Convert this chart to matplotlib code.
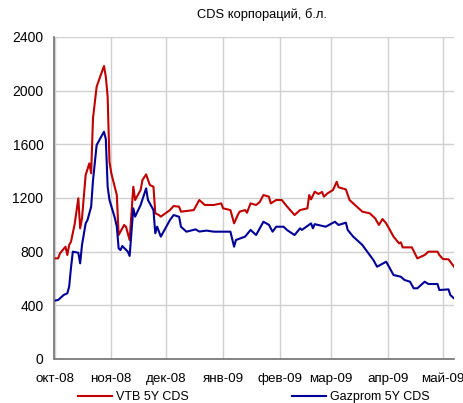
import numpy as np
import pandas as pd
import matplotlib
matplotlib.use("Agg")
import matplotlib.pyplot as plt
import matplotlib.dates as mdates

plt.rcParams['font.family'] = ['Liberation Sans', 'DejaVu Sans']

vtb_dates = ["2008-10-01", "2008-10-03", "2008-10-04", "2008-10-07", "2008-10-08", "2008-10-09",
             "2008-10-10", "2008-10-12", "2008-10-14", "2008-10-15", "2008-10-16", "2008-10-18",
             "2008-10-20", "2008-10-21", "2008-10-22", "2008-10-24", "2008-10-28", "2008-10-29",
             "2008-10-30", "2008-10-31", "2008-11-01", "2008-11-04", "2008-11-05", "2008-11-08",
             "2008-11-09", "2008-11-11", "2008-11-13", "2008-11-14", "2008-11-17", "2008-11-18",
             "2008-11-20", "2008-11-22", "2008-11-24", "2008-11-25", "2008-11-27", "2008-11-28",
             "2008-12-03", "2008-12-05", "2008-12-08", "2008-12-09", "2008-12-16", "2008-12-19",
             "2008-12-22", "2008-12-27", "2008-12-31", "2009-01-01", "2009-01-05", "2009-01-07",
             "2009-01-09", "2009-01-10", "2009-01-13", "2009-01-14", "2009-01-16", "2009-01-19",
             "2009-01-21", "2009-01-23", "2009-01-26", "2009-01-27", "2009-01-30", "2009-02-02",
             "2009-02-05", "2009-02-09", "2009-02-12", "2009-02-16", "2009-02-17", "2009-02-18",
             "2009-02-20", "2009-02-22", "2009-02-24", "2009-02-25", "2009-02-27", "2009-03-02",
             "2009-03-04", "2009-03-05", "2009-03-09", "2009-03-11", "2009-03-13", "2009-03-18",
             "2009-03-22", "2009-03-25", "2009-03-27", "2009-03-29", "2009-03-31", "2009-04-02",
             "2009-04-04", "2009-04-07", "2009-04-08", "2009-04-09", "2009-04-14", "2009-04-17",
             "2009-04-21", "2009-04-23", "2009-04-28", "2009-04-29", "2009-05-01", "2009-05-04",
             "2009-05-07"]
vtb = [750, 750, 788, 837, 775, 850,
       874, 1005, 1198, 974, 1048, 1371,
       1458, 1384, 1794, 2030, 2184, 2104,
       1955, 1470, 1384, 1222, 924, 999,
       986, 887, 1284, 1185, 1260, 1334,
       1376, 1297, 1284, 1086, 1073, 1061,
       1110, 1140, 1135, 1098, 1110, 1185,
       1148, 1148, 1160, 1123, 1110, 1011,
       1073, 1098, 1110, 1090, 1160, 1148,
       1170, 1222, 1210, 1160, 1185, 1185,
       1135, 1073, 1110, 1123, 1222, 1190,
       1247, 1230, 1245, 1210, 1235, 1260,
       1321, 1280, 1264, 1185, 1160, 1098,
       1086, 1048, 999, 1043, 1011, 962,
       912, 862, 870, 832, 832, 750,
       775, 800, 800, 775, 745, 743,
       688]

gaz_dates = ["2008-10-01", "2008-10-03", "2008-10-06", "2008-10-08", "2008-10-09", "2008-10-10",
             "2008-10-11", "2008-10-14", "2008-10-15", "2008-10-16", "2008-10-18", "2008-10-19",
             "2008-10-21", "2008-10-22", "2008-10-24", "2008-10-28", "2008-10-29", "2008-10-30",
             "2008-10-31", "2008-11-03", "2008-11-04", "2008-11-05", "2008-11-06", "2008-11-07",
             "2008-11-10", "2008-11-11", "2008-11-13", "2008-11-14", "2008-11-17", "2008-11-20",
             "2008-11-21", "2008-11-24", "2008-11-25", "2008-11-26", "2008-11-28", "2008-12-01",
             "2008-12-03", "2008-12-05", "2008-12-08", "2008-12-09", "2008-12-12", "2008-12-17",
             "2008-12-19", "2008-12-23", "2008-12-27", "2009-01-05", "2009-01-07", "2009-01-08",
             "2009-01-13", "2009-01-16", "2009-01-19", "2009-01-23", "2009-01-26", "2009-01-28",
             "2009-01-30", "2009-02-03", "2009-02-05", "2009-02-09", "2009-02-12", "2009-02-13",
             "2009-02-18", "2009-02-19", "2009-02-20", "2009-02-26", "2009-03-03", "2009-03-05",
             "2009-03-09", "2009-03-10", "2009-03-13", "2009-03-18", "2009-03-20", "2009-03-24",
             "2009-03-26", "2009-03-31", "2009-04-02", "2009-04-04", "2009-04-08", "2009-04-10",
             "2009-04-13", "2009-04-15", "2009-04-17", "2009-04-21", "2009-04-23", "2009-04-28",
             "2009-04-29", "2009-05-04", "2009-05-05", "2009-05-07"]
gazprom = [435, 440, 477, 490, 539, 680,
           800, 792, 713, 850, 1011, 1036,
           1135, 1330, 1595, 1694, 1640, 1284,
           1185, 1048, 986, 825, 812, 842,
           800, 768, 1123, 1061, 1148, 1272,
           1185, 1110, 937, 986, 912, 986,
           1036, 1073, 1060, 986, 949, 966,
           950, 957, 949, 949, 837, 887,
           912, 962, 924, 1023, 1000, 949,
           986, 986, 960, 924, 974, 962,
           1011, 974, 1005, 986, 1023, 999,
           1016, 962, 912, 850, 812, 738,
           688, 725, 676, 626, 613, 589,
           576, 527, 527, 576, 559, 559,
           514, 519, 477, 452]

month_labels = ["окт-08", "ноя-08", "дек-08", "янв-09", "фев-09", "мар-09", "апр-09", "май-09"]
month_starts = pd.date_range("2008-10-01", periods=8, freq="MS")

fig = plt.figure(figsize=(4.64, 4.03), dpi=100)
ax = fig.add_axes([54.5 / 464, 1 - 359 / 403, (454 - 54.5) / 464, (359 - 37) / 403])

ax.plot(pd.to_datetime(vtb_dates), vtb, color="#C00000", lw=1.5, label="VTB 5Y CDS")
ax.plot(pd.to_datetime(gaz_dates), gazprom, color="#000096", lw=1.5, label="Gazprom 5Y CDS")

ax.set_xlim(pd.Timestamp("2008-10-01"), pd.Timestamp("2009-05-07"))
ax.set_ylim(0, 2400)
ax.set_yticks(range(0, 2401, 400))
ax.set_xticks(month_starts)
ax.set_xticklabels(month_labels)
ax.grid(True, color="#d0d0d0", lw=1)
ax.set_axisbelow(True)
for s in ["top", "right"]:
    ax.spines[s].set_visible(False)
for s in ["left", "bottom"]:
    ax.spines[s].set_color("#707070")
    ax.spines[s].set_linewidth(1.2)
ax.tick_params(length=0, labelsize=10, colors="black")
ax.tick_params(axis="x", pad=10, labelsize=9.6)
ax.tick_params(axis="y", pad=8)

fig.text(262 / 464, 1 - 15 / 403, "CDS корпораций, б.л.", ha="center", va="center", fontsize=9.3)
fig.legend(loc="center", bbox_to_anchor=(254 / 464, 6 / 403), ncol=2, frameon=False,
           fontsize=9, handlelength=2.7, columnspacing=8.3, handletextpad=0.3)

fig.savefig("out.png", dpi=100)
